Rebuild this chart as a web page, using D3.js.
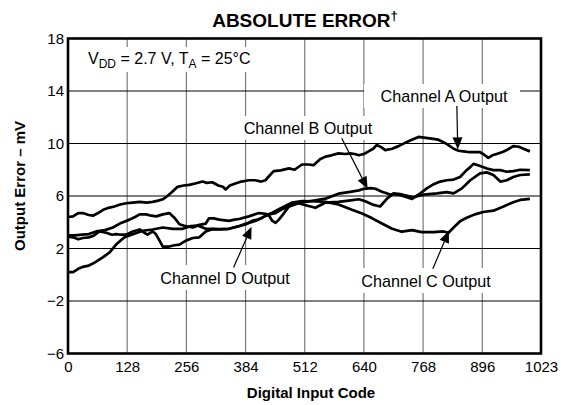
<!DOCTYPE html>
<html><head><meta charset="utf-8">
<script src="https://cdn.jsdelivr.net/npm/d3@7"></script>
<style>
html,body{margin:0;padding:0;background:#fff;}
svg{display:block;font-family:Arial,"Liberation Sans",Helvetica,sans-serif;}
</style></head>
<body><svg id="c" width="571" height="405"></svg>
<script>
// ---- data ----
const xTicks = [0,128,256,384,512,640,768,896,1023];
const yTicks = [18,14,10,6,2,-2,-6];

const chACodes = [0,11,22,32,45,54,65,76,88,100,113,126,140,155,170,183,195,205,215,225,237,250,262,275,291,300,312,325,335,341,350,362,375,391,405,418,427,437,445,460,478,490,506,520,531,545,557,570,585,600,610,620,629,640,650,660,668,678,686,701,715,729,745,758,770,790,800,812,822,834,845,855,866,877,890,898,909,918,927,940,949,963,975,985,999];
const chAValues = [4.4,4.45,4.7,4.7,4.55,4.5,4.7,4.95,5.1,5.2,5.35,5.45,5.5,5.55,5.5,5.55,5.65,5.75,6.0,6.3,6.7,6.8,6.85,6.95,7.1,7.0,7.05,6.8,6.7,6.5,6.8,6.95,7.1,7.2,7.2,7.1,7.2,7.6,7.9,7.95,8.1,8.0,8.4,8.4,8.35,8.8,9.0,9.1,9.25,9.2,9.25,9.2,9.1,9.2,9.4,9.6,9.9,9.7,9.5,9.6,9.8,10.05,10.3,10.5,10.45,10.35,10.3,10.1,9.9,9.6,9.45,9.4,9.35,9.35,9.35,9.2,8.9,9.1,9.2,9.35,9.5,9.8,9.75,9.6,9.4];

const chBCodes = [0,15,30,45,61,80,97,115,133,145,155,169,180,191,205,219,230,241,255,270,284,298,305,315,327,348,360,370,391,413,427,435,442,449,456,463,478,499,514,535,557,585,607,629,640,655,665,679,694,715,733,744,762,776,791,805,819,834,848,860,870,877,890,906,920,935,949,963,978,999];
const chBValues = [3.0,3.0,3.05,3.1,3.3,3.4,3.6,3.95,4.2,4.4,4.6,4.6,4.5,4.45,4.6,4.7,4.35,3.85,3.7,3.6,3.8,3.9,4.3,4.3,4.2,4.1,4.2,4.25,4.45,4.7,4.65,4.5,4.1,3.95,4.2,4.5,5.2,5.5,5.55,5.67,5.8,6.18,6.3,6.43,6.55,6.6,6.55,6.33,6.15,6.1,5.9,5.78,6.2,6.58,6.9,7.1,7.2,7.25,7.45,7.9,8.2,8.45,8.3,8.1,7.97,7.97,7.85,7.9,8.0,7.97];

const chCCodes = [0,11,22,32,45,54,68,83,95,104,115,126,140,155,165,172,183,190,198,205,219,230,241,255,270,284,298,312,327,348,370,385,398,410,420,431,442,456,470,485,506,528,557,585,614,636,658,679,701,722,744,765,790,812,823,834,848,860,870,880,898,920,942,963,978,999];
const chCValues = [2.9,2.85,2.7,2.8,2.85,2.95,3.3,3.2,3.05,3.1,3.05,3.05,3.3,3.45,3.2,3.05,3.3,3.1,2.6,2.15,2.15,2.25,2.3,2.6,2.8,2.85,3.3,3.47,3.45,3.5,3.7,3.85,4.1,4.2,4.35,4.55,4.73,5.0,5.24,5.5,5.62,5.6,5.55,5.35,4.95,4.67,4.3,3.9,3.5,3.28,3.4,3.25,3.25,3.3,3.2,3.6,4.08,4.3,4.45,4.6,4.78,4.88,5.2,5.53,5.7,5.78];

const chDCodes = [0,11,22,32,45,54,65,76,90,104,115,122,133,145,162,183,205,227,248,265,280,298,312,327,348,370,391,405,420,434,449,463,478,499,514,535,557,585,607,629,643,661,675,690,704,718,747,769,798,819,834,852,870,891,906,920,935,949,963,978,999];
const chDValues = [0.2,0.2,0.45,0.6,0.7,0.85,1.1,1.35,1.7,2.3,2.65,2.85,3.0,3.15,3.35,3.45,3.6,3.5,3.5,3.7,3.75,3.5,3.5,3.47,3.5,3.72,3.95,4.1,4.35,4.6,4.7,5.0,5.2,5.45,5.3,5.1,5.5,5.55,5.65,5.75,5.6,5.32,5.2,5.8,6.2,6.15,5.9,6.1,6.2,6.3,6.2,6.58,7.2,7.72,7.8,7.6,7.1,7.2,7.45,7.6,7.65];

// annotation labels and arrows (arrow ends in data units: code, mV)
const labelNames = ["Channel A Output","Channel B Output","Channel D Output","Channel C Output"];
const arrowFrom = [[841,12.85],[592,10.4],[358,0.55],[789,0.45]];
const arrowTo   = [[843,9.55],[648,6.55],[397,3.65],[824,3.35]];

// ---- chart ----
const svg = d3.select("#c");
const L = 68, R = 541, T = 38.5, B = 353.5;
const x = d3.scaleLinear().domain([0,1023]).range([L,R]);
const y = d3.scaleLinear().domain([-6,18]).range([B,T]);
const fmtY = v => (v < 0 ? "\u2212" + Math.abs(v) : String(v));

// grid
const g = svg.append("g");
g.selectAll("line.v").data(xTicks.slice(1,-1)).join("line")
  .attr("x1", d=>x(d)).attr("x2", d=>x(d)).attr("y1", T).attr("y2", B)
  .attr("stroke", "#7a7a7a").attr("stroke-width", 1.2);
g.selectAll("line.h").data(yTicks.slice(1,-1)).join("line")
  .attr("x1", L).attr("x2", R).attr("y1", d=>y(d)).attr("y2", d=>y(d))
  .attr("stroke", "#000").attr("stroke-width", 1.1);

// white label boxes (cut grid)
const boxes = [
  {x:82, y:47, w:182, h:25},   // conditions
  {x:364, y:84, w:156, h:24},  // A
  {x:234, y:116, w:146, h:24}, // B
  {x:153, y:265, w:143, h:25}, // D
  {x:354, y:268, w:143, h:25}  // C
];
svg.selectAll("rect.box").data(boxes).join("rect")
  .attr("x", d=>d.x).attr("y", d=>d.y).attr("width", d=>d.w).attr("height", d=>d.h)
  .attr("fill", "#fff");

// series
const series = [
  d3.zip(chACodes, chAValues),
  d3.zip(chBCodes, chBValues),
  d3.zip(chCCodes, chCValues),
  d3.zip(chDCodes, chDValues)
];
const line = d3.line().x(d=>x(d[0])).y(d=>y(d[1])).curve(d3.curveLinear);
svg.append("g").selectAll("path").data(series).join("path")
  .attr("d", line).attr("fill", "none").attr("stroke", "#000")
  .attr("stroke-width", 2.7).attr("stroke-linejoin", "round");

// frame
svg.append("rect").attr("x", L).attr("y", T).attr("width", R-L).attr("height", B-T)
  .attr("fill", "none").attr("stroke", "#000").attr("stroke-width", 2.6);

// axes
const fs = 15;
const ya = svg.append("g").attr("transform", `translate(${L},0)`)
  .call(d3.axisLeft(y).tickValues(yTicks).tickSize(0).tickPadding(4).tickFormat(fmtY));
ya.select(".domain").remove();
ya.selectAll("text").attr("font-size", fs).attr("font-family", "Arial, 'Liberation Sans', sans-serif").attr("fill", "#000");
const xa = svg.append("g").attr("transform", `translate(0,${B})`)
  .call(d3.axisBottom(x).tickValues(xTicks).tickSize(0).tickPadding(8).tickFormat(d3.format("d")));
xa.select(".domain").remove();
xa.selectAll("text").attr("font-size", fs).attr("font-family", "Arial, 'Liberation Sans', sans-serif").attr("fill", "#000");

// arrows
const arr = svg.append("g");
arrowFrom.forEach((f, i) => {
  const x0 = x(f[0]), y0 = y(f[1]), x1 = x(arrowTo[i][0]), y1 = y(arrowTo[i][1]);
  const dx = x1-x0, dy = y1-y0, len = Math.hypot(dx,dy), ux = dx/len, uy = dy/len;
  const hl = 12, hw = 5;
  const bx = x1 - ux*hl, by = y1 - uy*hl;
  arr.append("line").attr("x1", x0).attr("y1", y0).attr("x2", bx).attr("y2", by)
    .attr("stroke", "#000").attr("stroke-width", 1.2);
  arr.append("path")
    .attr("d", `M${x1},${y1}L${bx - uy*hw},${by + ux*hw}L${bx + uy*hw},${by - ux*hw}Z`)
    .attr("fill", "#000");
});

// labels
const labelPos = [[444,101.5],[308,133.5],[225,283.5],[426,286.5]];
svg.append("g").selectAll("text").data(labelNames).join("text")
  .attr("x", (d,i)=>labelPos[i][0]).attr("y", (d,i)=>labelPos[i][1])
  .attr("text-anchor", "middle").attr("font-size", 16.2).text(d=>d);

// conditions
const cond = svg.append("text").attr("x", 88).attr("y", 64).attr("font-size", 16);
cond.append("tspan").text("V");
cond.append("tspan").attr("font-size", 12).attr("dy", 4).text("DD");
cond.append("tspan").attr("dy", -4).text(" = 2.7 V, T");
cond.append("tspan").attr("font-size", 12).attr("dy", 4).text("A");
cond.append("tspan").attr("dy", -4).text(" = 25\u00B0C");

// title
const title = svg.append("text").attr("x", 305).attr("y", 27).attr("text-anchor", "middle")
  .attr("font-size", 19).attr("font-weight", "bold");
title.append("tspan").text("ABSOLUTE ERROR");
title.append("tspan").attr("font-size", 13).attr("dy", -7).text("\u2020");

// axis titles
svg.append("text").attr("transform", "translate(25,186) rotate(-90)").attr("text-anchor", "middle")
  .attr("font-size", 15).attr("font-weight", "bold").text("Output Error \u2013 mV");
svg.append("text").attr("x", 311).attr("y", 398).attr("text-anchor", "middle")
  .attr("font-size", 15).attr("font-weight", "bold").text("Digital Input Code");
</script></body></html>
